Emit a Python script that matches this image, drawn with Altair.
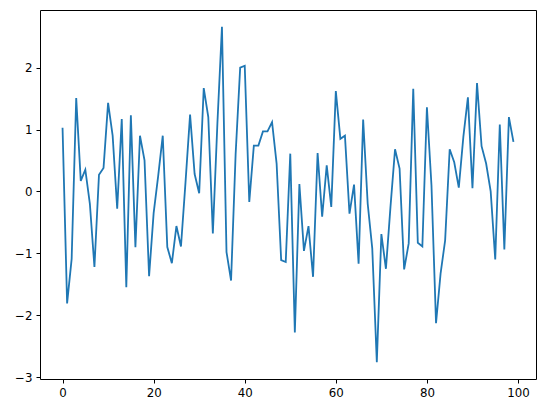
import altair as alt
import pandas as pd

x_values = list(range(100))
y_values = [
    1.03, -1.81, -1.09, 1.51, 0.17, 0.35, -0.2, -1.22, 0.27, 0.38,
    1.43, 0.9, -0.28, 1.17, -1.55, 1.23, -0.9, 0.9, 0.5, -1.37,
    -0.35, 0.25, 0.9, -0.9, -1.16, -0.56, -0.89, 0.15, 1.24, 0.28,
    -0.03, 1.67, 1.2, -0.68, 1.1, 2.66, -0.98, -1.44, 0.6, 2.0,
    2.03, -0.17, 0.74, 0.74, 0.97, 0.97, 1.12, 0.45, -1.11, -1.14,
    0.61, -2.28, 0.12, -0.96, -0.56, -1.38, 0.62, -0.41, 0.42, -0.25,
    1.62, 0.85, 0.9, -0.36, 0.11, -1.17, 1.16, -0.2, -0.92, -2.76,
    -0.69, -1.25, -0.25, 0.68, 0.37, -1.26, -0.84, 1.66, -0.83, -0.89,
    1.36, 0.1, -2.13, -1.33, -0.79, 0.68, 0.47, 0.06, 0.88, 1.52,
    0.05, 1.75, 0.73, 0.45, 0.0, -1.1, 1.08, -0.94, 1.2, 0.8,
]
x_ticks = [0, 20, 40, 60, 80, 100]
y_ticks = [-3, -2, -1, 0, 1, 2]

df = pd.DataFrame({"x": x_values, "y": y_values})

axis_common = dict(
    grid=False,
    domain=False,
    ticks=True,
    tickColor="black",
    tickSize=4,
    tickWidth=1,
    labelFont="DejaVu Sans",
    labelFontSize=11.8,
    labelColor="black",
    labelPadding=4,
    title=None,
)

chart = (
    alt.Chart(df)
    .mark_line(color="#1f77b4", strokeWidth=1.8, clip=True)
    .encode(
        x=alt.X(
            "x:Q",
            scale=alt.Scale(domain=[-4.95, 103.95], nice=False, zero=False),
            axis=alt.Axis(values=x_ticks, format="d", **axis_common),
        ),
        y=alt.Y(
            "y:Q",
            scale=alt.Scale(domain=[-3.031, 2.931], nice=False, zero=False),
            axis=alt.Axis(values=y_ticks, format="d", **axis_common),
        ),
    )
    .properties(
        width=496,
        height=369,
        autosize=alt.AutoSizeParams(type="none"),
        padding={"left": 32, "top": 2, "right": 2, "bottom": 26},
    )
    .configure(background="white")
    .configure_view(stroke="black", strokeWidth=1)
)

chart.save("out.html", embed_options={"renderer": "svg", "actions": False})
